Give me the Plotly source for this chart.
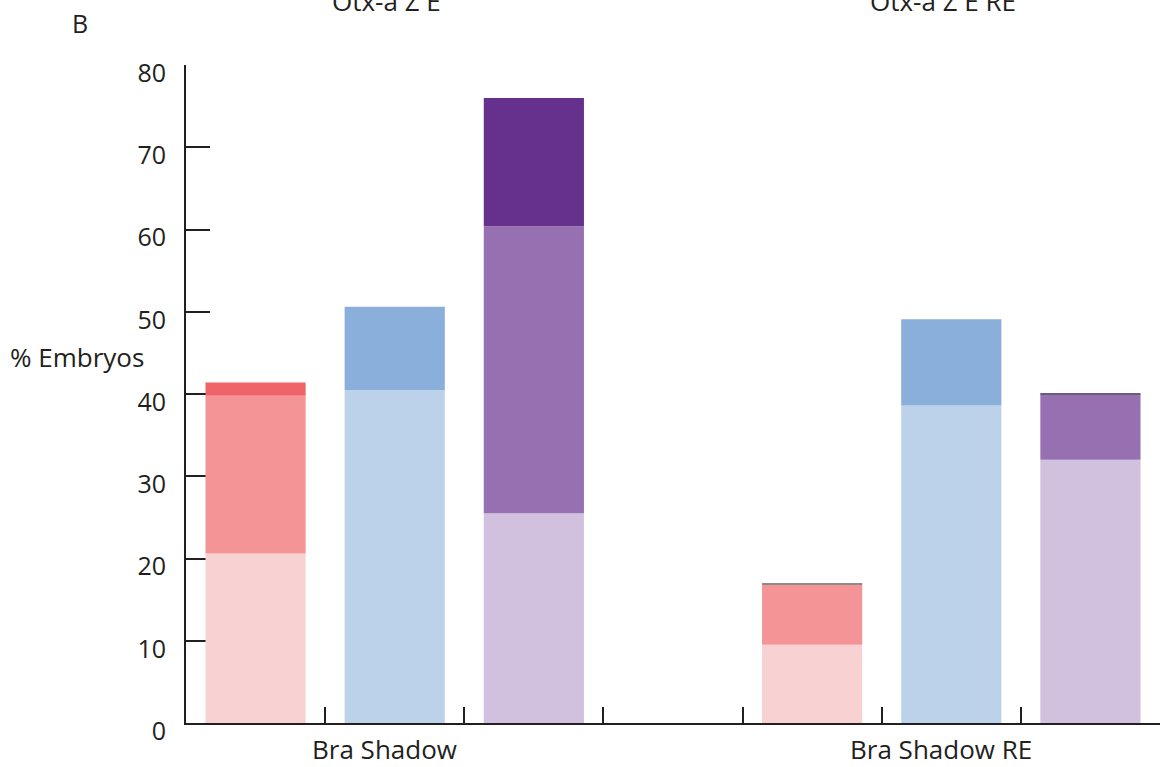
import plotly.graph_objects as go

# Slot positions along the x axis; slot 3 is an empty spacer between the two groups
positions = [0, 1, 2, 4, 5, 6]
group_labels = ["Bra Shadow", "Bra Shadow RE"]
group_titles = ["Otx-a Z E", "Otx-a Z E RE"]

# Stacked segment heights (% embryos), bottom to top
red_x = [0, 4]
red_low = [20.6, 9.5]
red_mid = [19.2, 7.3]
red_high = [1.6, 0.2]

blue_x = [1, 5]
blue_low = [40.5, 38.6]
blue_high = [10.1, 10.5]

purple_x = [2, 6]
purple_low = [25.5, 32.0]
purple_mid = [34.9, 7.9]
purple_high = [15.6, 0.2]

y_ticks = [0, 10, 20, 30, 40, 50, 60, 70, 80]

FONT = "Open Sans"
INK = "#231f20"
BAR_W = 0.72

fig = go.Figure()


def add_stack(xs, segments, colors):
    base = [0] * len(xs)
    for vals, col in zip(segments, colors):
        fig.add_trace(go.Bar(
            x=xs, y=vals, base=list(base), width=BAR_W,
            marker=dict(color=col, line=dict(width=0)),
            showlegend=False, hoverinfo="skip",
        ))
        base = [b + v for b, v in zip(base, vals)]


add_stack(red_x, [red_low, red_mid, red_high],
          ["#f8d2d3", "#f49496", ["#ee6468", "#8c8c8c"]])
add_stack(blue_x, [blue_low, blue_high], ["#bbd2ea", "#8aafdb"])
add_stack(purple_x, [purple_low, purple_mid, purple_high],
          ["#d1c1df", "#9670b0", ["#66308d", "#6e5a80"]])

fig.update_layout(
    width=1161, height=767,
    margin=dict(l=186, r=1, t=65, b=44),
    paper_bgcolor="white", plot_bgcolor="white",
    barmode="overlay",
    font=dict(family=FONT, color=INK, size=22),
    xaxis=dict(
        range=[-0.5, 6.5], showgrid=False, zeroline=False,
        showline=True, linecolor=INK, linewidth=2,
        tickvals=[0.5, 1.5, 2.5, 3.5, 4.5, 5.5, 6.5],
        ticks="inside", ticklen=16, tickwidth=2, tickcolor=INK,
        showticklabels=False, layer="below traces",
    ),
    yaxis=dict(
        range=[0, 80], showgrid=False, zeroline=False,
        showline=True, linecolor=INK, linewidth=2,
        tickvals=y_ticks, ticks="inside", ticklen=24, tickwidth=2,
        tickcolor=INK, tickfont=dict(size=25, family=FONT, color=INK),
        ticklabelstandoff=13, ticklabelshift=8, layer="below traces",
    ),
)

# Group labels under the axis and group titles above the plot
for xpos, lab in zip([1, 5], group_labels):
    fig.add_annotation(x=xpos, y=0, xref="x", yref="paper", text=lab,
                       showarrow=False, yanchor="top", yshift=-6, xshift=-10,
                       font=dict(size=26, family=FONT, color=INK))
for xpos, lab in zip([1, 5], group_titles):
    fig.add_annotation(x=xpos, y=1, xref="x", yref="paper", text=lab,
                       showarrow=False, yanchor="bottom", yshift=44, xshift=-8,
                       font=dict(size=26, family=FONT, color=INK))

fig.add_annotation(x=(80 - 186) / 974, y=1 + (65 - 23) / 657.7,
                   xref="paper", yref="paper", text="B",
                   showarrow=False, xanchor="center", yanchor="middle",
                   font=dict(size=25, family=FONT, color=INK))

fig.add_annotation(x=(8 - 186) / 974, y=(722.7 - 357) / 657.7, xref="paper",
                   yref="paper", text="% Embryos", showarrow=False,
                   xanchor="left", yanchor="middle",
                   font=dict(size=26, family=FONT, color=INK))

fig.write_html("out.html")
